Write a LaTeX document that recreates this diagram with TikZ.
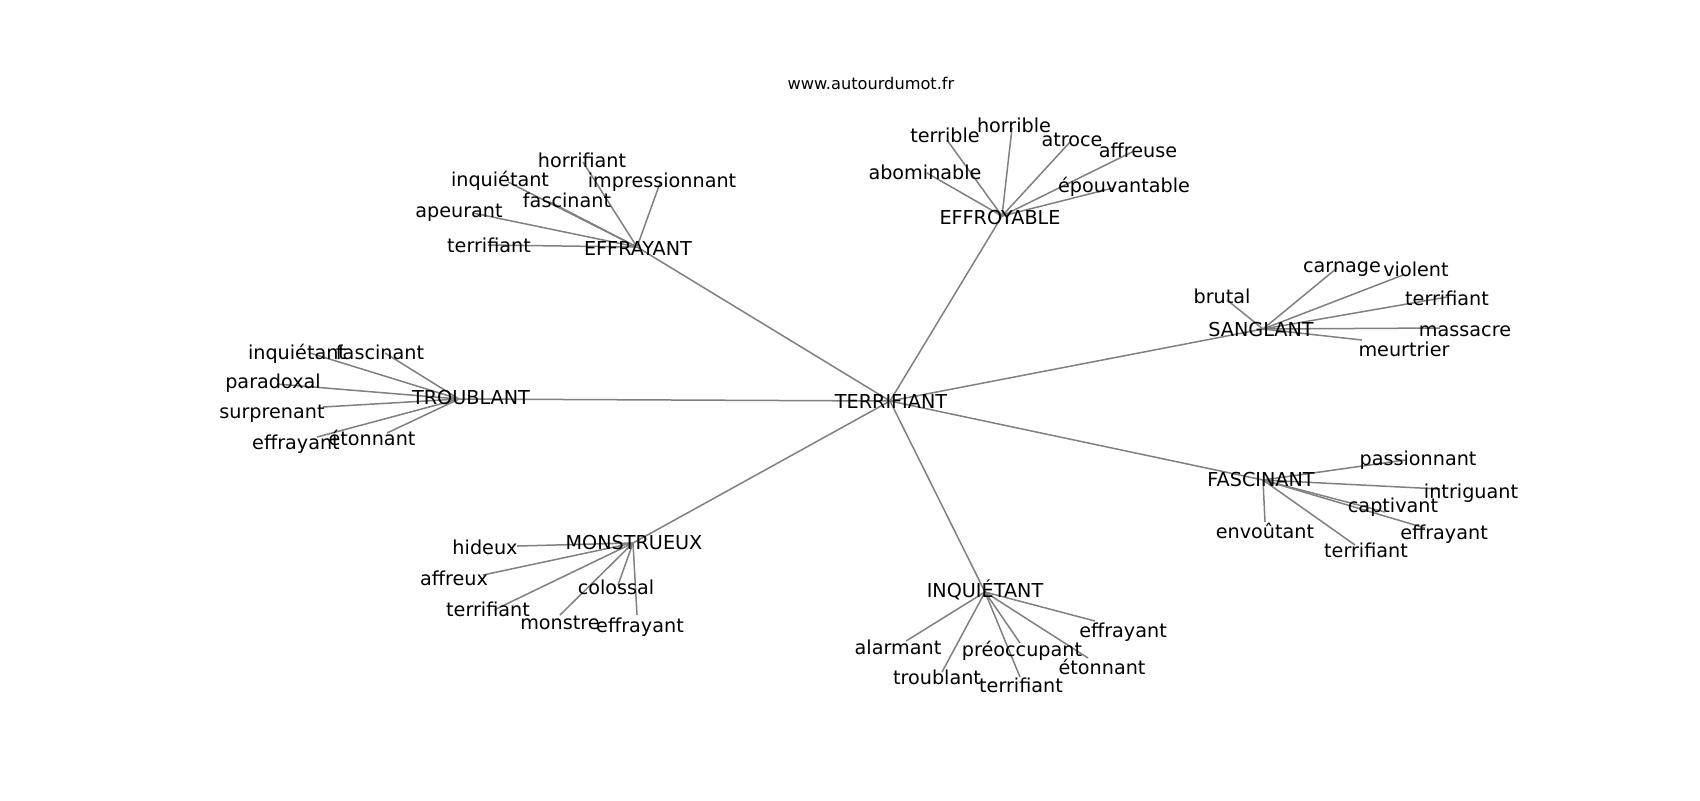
\documentclass[tikz,border=0pt]{standalone}
\usepackage{fontspec}
\setmainfont{DejaVu Sans}
\begin{document}
\begin{tikzpicture}[x=0.5pt,y=-0.5pt,
  lbl/.style={font=\fontsize{9.6pt}{11pt}\selectfont, inner sep=0pt, text height=6.9pt, text depth=0pt, anchor=center, text=black, yshift=-1.5pt},
  ttl/.style={font=\fontsize{8.1pt}{10pt}\selectfont, inner sep=0pt, text height=5.8pt, text depth=0pt, anchor=center, text=black, yshift=-0.5pt},
  lnk/.style={draw=black!50, line width=0.75pt}]
\useasboundingbox (0,0) rectangle (1700,800);
\fill[white] (0,0) rectangle (1700,800);
% hubs (edge end points)
\coordinate (hT) at (890,401);
\coordinate (hA) at (637,247);
\coordinate (hB) at (1002,216);
\coordinate (hC) at (1263,329);
\coordinate (hD) at (459,399);
\coordinate (hE) at (1263,480);
\coordinate (hF) at (633,543);
\coordinate (hG) at (985,592);
% leaf end points
\coordinate (a1) at (583,162); \coordinate (a2) at (508,182); \coordinate (a3) at (660,183);
\coordinate (a4) at (550,202); \coordinate (a5) at (473,213); \coordinate (a6) at (488,245);
\coordinate (b1) at (947,140); \coordinate (b2) at (1012,128); \coordinate (b3) at (1070,142);
\coordinate (b4) at (1132,152); \coordinate (b5) at (927,173); \coordinate (b6) at (1113,188);
\coordinate (c1) at (1227,300); \coordinate (c2) at (1337,268); \coordinate (c3) at (1403,275);
\coordinate (c4) at (1447,297); \coordinate (c5) at (1440,328); \coordinate (c6) at (1362,340);
\coordinate (d1) at (310,353); \coordinate (d2) at (385,353); \coordinate (d3) at (277,384);
\coordinate (d4) at (323,407); \coordinate (d5) at (317,437); \coordinate (d6) at (387,433);
\coordinate (e1) at (1405,460); \coordinate (e2) at (1440,489); \coordinate (e3) at (1385,512);
\coordinate (e4) at (1425,528); \coordinate (e5) at (1265,522); \coordinate (e6) at (1355,545);
\coordinate (f1) at (517,546); \coordinate (f2) at (483,575); \coordinate (f3) at (494,610);
\coordinate (f4) at (618,585); \coordinate (f5) at (560,615); \coordinate (f6) at (637,615);
\coordinate (g1) at (906,641); \coordinate (g2) at (942,672); \coordinate (g3) at (1020,643);
\coordinate (g4) at (1020,677); \coordinate (g5) at (1088,658); \coordinate (g6) at (1095,621);
% connectors
\foreach \h in {hA,hB,hC,hD,hE,hF,hG} \draw[lnk] (hT) -- (\h);
\foreach \i in {1,...,6} {
  \draw[lnk] (hA) -- (a\i);
  \draw[lnk] (hB) -- (b\i);
  \draw[lnk] (hC) -- (c\i);
  \draw[lnk] (hD) -- (d\i);
  \draw[lnk] (hE) -- (e\i);
  \draw[lnk] (hF) -- (f\i);
  \draw[lnk] (hG) -- (g\i);
}
% title
\node[ttl] (title) at (871,83) {www.autourdumot.fr};
% hub labels
\node[lbl] (T) at (891,399) {TERRIFIANT};
\node[lbl] (A) at (638,246) {EFFRAYANT};
\node[lbl] (B) at (1000,215) {EFFROYABLE};
\node[lbl] (C) at (1261,327) {SANGLANT};
\node[lbl] (D) at (471,395) {TROUBLANT};
\node[lbl] (E) at (1261,477) {FASCINANT};
\node[lbl] (F) at (634,540) {MONSTRUEUX};
\node[lbl] (G) at (985,588) {INQUIÉTANT};
% leaf labels
\node[lbl] (A1) at (582,158) {horrifiant};
\node[lbl] (A2) at (500,177) {inquiétant};
\node[lbl] (A3) at (662,178) {impressionnant};
\node[lbl] (A4) at (567,198) {fascinant};
\node[lbl] (A5) at (459,208) {apeurant};
\node[lbl] (A6) at (489,243) {terrifiant};
\node[lbl] (B1) at (945,133) {terrible};
\node[lbl] (B2) at (1014,123) {horrible};
\node[lbl] (B3) at (1072,137) {atroce};
\node[lbl] (B4) at (1138,148) {affreuse};
\node[lbl] (B5) at (925,170) {abominable};
\node[lbl] (B6) at (1124,183) {épouvantable};
\node[lbl] (C1) at (1222,294) {brutal};
\node[lbl] (C2) at (1342,263) {carnage};
\node[lbl] (C3) at (1416,267) {violent};
\node[lbl] (C4) at (1447,296) {terrifiant};
\node[lbl] (C5) at (1465,327) {massacre};
\node[lbl] (C6) at (1404,347) {meurtrier};
\node[lbl] (D1) at (297,350) {inquiétant};
\node[lbl] (D2) at (380,350) {fascinant};
\node[lbl] (D3) at (273,379) {paradoxal};
\node[lbl] (D4) at (272,409) {surprenant};
\node[lbl] (D5) at (296,440) {effrayant};
\node[lbl] (D6) at (372,436) {étonnant};
\node[lbl] (E1) at (1418,456) {passionnant};
\node[lbl] (E2) at (1471,489) {intriguant};
\node[lbl] (E3) at (1393,503) {captivant};
\node[lbl] (E4) at (1444,530) {effrayant};
\node[lbl] (E5) at (1265,529) {envoûtant};
\node[lbl] (E6) at (1366,548) {terrifiant};
\node[lbl] (F1) at (485,545) {hideux};
\node[lbl] (F2) at (454,576) {affreux};
\node[lbl] (F3) at (488,607) {terrifiant};
\node[lbl] (F4) at (616,585) {colossal};
\node[lbl] (F5) at (560,620) {monstre};
\node[lbl] (F6) at (640,623) {effrayant};
\node[lbl] (G1) at (898,645) {alarmant};
\node[lbl] (G2) at (937,675) {troublant};
\node[lbl] (G3) at (1022,647) {préoccupant};
\node[lbl] (G4) at (1021,683) {terrifiant};
\node[lbl] (G5) at (1102,665) {étonnant};
\node[lbl] (G6) at (1123,628) {effrayant};
\end{tikzpicture}
\end{document}
